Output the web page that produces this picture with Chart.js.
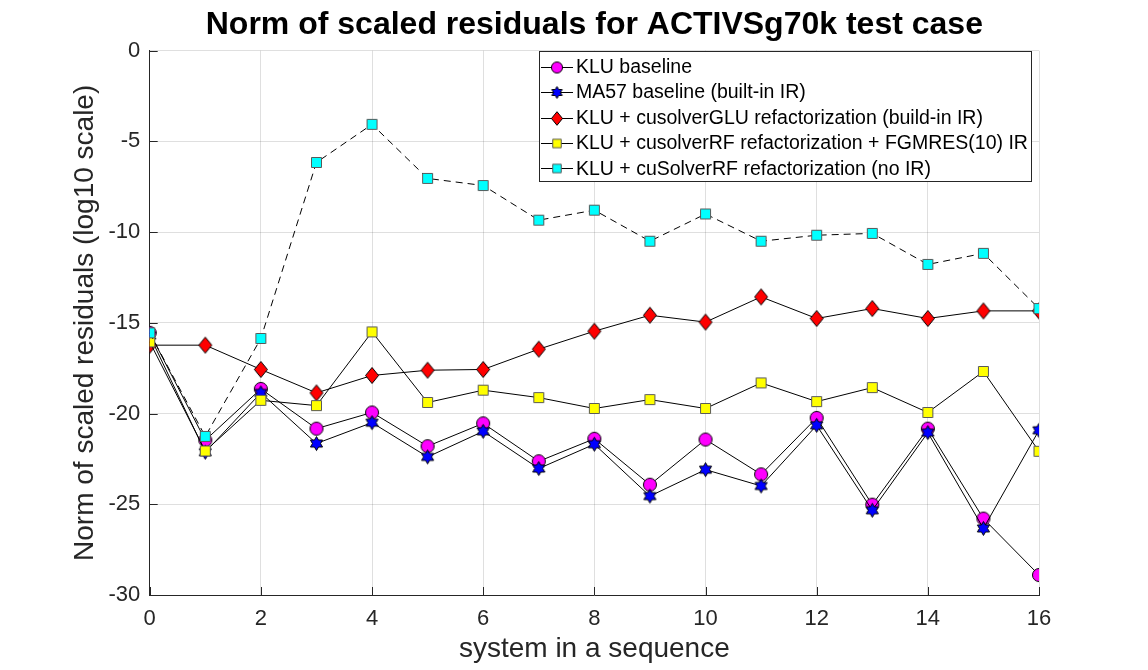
<!DOCTYPE html>
<html>
<head>
<meta charset="utf-8">
<script src="https://cdn.jsdelivr.net/npm/chart.js@4.4.1/dist/chart.umd.min.js"></script>
<style>
  html, body { margin: 0; padding: 0; background: #ffffff; }
  #wrap { width: 1148px; height: 670px; }
</style>
</head>
<body>
<div id="wrap"><canvas id="c" width="1148" height="670"></canvas></div>
<script>
// ---------------- data ----------------
const titleText = 'Norm of scaled residuals for ACTIVSg70k test case';
const xAxisTitle = 'system in a sequence';
const yAxisTitle = 'Norm of scaled residuals (log10 scale)';

const systemIndex = [0, 1, 2, 3, 4, 5, 6, 7, 8, 9, 10, 11, 12, 13, 14, 15, 16];

const seriesLabels = [
  'KLU baseline',
  'MA57 baseline (built-in IR)',
  'KLU + cusolverGLU refactorization (build-in IR)',
  'KLU + cusolverRF refactorization + FGMRES(10) IR',
  'KLU + cuSolverRF refactorization (no IR)'
];

const kluBaseline = [-15.55, -21.47, -18.64, -20.83, -19.94, -21.80, -20.54, -22.63, -21.39,
                     -23.92, -21.43, -23.35, -20.24, -25.02, -20.83, -25.79, -28.90];
const ma57Baseline = [-15.70, -22.13, -18.86, -21.65, -20.50, -22.39, -20.98, -23.03, -21.69,
                      -24.55, -23.09, -23.99, -20.65, -25.33, -21.05, -26.33, -20.92];
const kluGlu = [-16.23, -16.23, -17.57, -18.86, -17.90, -17.61, -17.57, -16.45, -15.46,
                -14.58, -14.96, -13.57, -14.76, -14.21, -14.76, -14.34, -14.34];
const kluRfFgmres = [-16.05, -22.06, -19.27, -19.56, -15.50, -19.39, -18.71, -19.12, -19.72,
                     -19.23, -19.72, -18.31, -19.34, -18.57, -19.94, -17.68, -22.08];
const kluRfNoIr = [-15.55, -21.26, -15.86, -6.16, -4.06, -7.04, -7.43, -9.34, -8.79,
                   -10.50, -9.00, -10.50, -10.17, -10.07, -11.78, -11.17, -14.21];

const xTickValues = [0, 2, 4, 6, 8, 10, 12, 14, 16];
const yTickValues = [-30, -25, -20, -15, -10, -5, 0];

// ---------------- styles ----------------
const FONT = "'Liberation Sans', Arial, Helvetica, sans-serif";
const AXIS_COLOR = '#262626';

function makeMarker(kind, fill, stroke, s) {
  const c = document.createElement('canvas');
  let w, h;
  if (kind === 'circle') { w = h = Math.ceil(16 * s); }
  else if (kind === 'hexagram') { w = h = Math.ceil(17 * s); }
  else if (kind === 'diamond') { w = Math.ceil(16 * s); h = Math.ceil(19 * s); }
  else { w = h = Math.ceil(13 * s); }
  c.width = w; c.height = h;
  const g = c.getContext('2d');
  const cx = w / 2, cy = h / 2;
  g.beginPath();
  if (kind === 'circle') {
    g.arc(cx, cy, 6.5 * s, 0, Math.PI * 2);
  } else if (kind === 'hexagram') {
    const R = 7 * s, r = R / Math.sqrt(3);
    for (let i = 0; i < 12; i++) {
      const a = -Math.PI / 2 + i * Math.PI / 6;
      const rr = (i % 2 === 0) ? R : r;
      const px = cx + rr * Math.cos(a), py = cy + rr * Math.sin(a);
      if (i === 0) g.moveTo(px, py); else g.lineTo(px, py);
    }
    g.closePath();
  } else if (kind === 'diamond') {
    const hw = 6.5 * s, hh = 8 * s;
    g.moveTo(cx, cy - hh); g.lineTo(cx + hw, cy); g.lineTo(cx, cy + hh); g.lineTo(cx - hw, cy);
    g.closePath();
  } else {
    const hs = 5 * s;
    g.rect(cx - hs, cy - hs, hs * 2, hs * 2);
  }
  g.fillStyle = fill;
  g.fill();
  g.lineWidth = 1;
  g.strokeStyle = stroke;
  g.stroke();
  return c;
}

const markerDefs = [
  ['circle', '#FF00FF', '#000000'],
  ['hexagram', '#0000FF', '#000000'],
  ['diamond', '#FF0000', '#000000'],
  ['square', '#FFFF00', '#5a5a5a'],
  ['square', '#00FFFF', '#5a5a5a']
];
const plotMarkers = markerDefs.map(d => makeMarker(d[0], d[1], d[2], 1));
const legendMarkers = markerDefs.map(d => makeMarker(d[0], d[1], d[2], 0.85));
const seriesDash = [[], [], [], [], [7, 5]];
const seriesValues = [kluBaseline, ma57Baseline, kluGlu, kluRfFgmres, kluRfNoIr];

const datasets = seriesValues.map((vals, i) => ({
  label: seriesLabels[i],
  data: systemIndex.map((x, k) => ({ x: x, y: vals[k] })),
  borderColor: '#000000',
  borderWidth: 1,
  borderDash: seriesDash[i],
  pointStyle: plotMarkers[i],
  pointRadius: 6,
  pointHoverRadius: 6,
  fill: false,
  tension: 0,
  order: seriesValues.length - i
}));

// ---------------- plugins ----------------
const inwardTicks = {
  id: 'inwardTicks',
  afterDatasetsDraw(chart) {
    const { ctx, chartArea, scales } = chart;
    ctx.save();
    ctx.strokeStyle = AXIS_COLOR;
    ctx.lineWidth = 1;
    ctx.beginPath();
    xTickValues.forEach(v => {
      const px = Math.round(scales.x.getPixelForValue(v)) + 0.5;
      ctx.moveTo(px, chartArea.bottom);
      ctx.lineTo(px, chartArea.bottom - 8);
    });
    yTickValues.forEach(v => {
      const py = Math.round(scales.y.getPixelForValue(v)) + 0.5;
      ctx.moveTo(chartArea.left, py);
      ctx.lineTo(chartArea.left + 8, py);
    });
    ctx.stroke();
    ctx.restore();
  }
};

const boxLegend = {
  id: 'boxLegend',
  afterDatasetsDraw(chart) {
    const ctx = chart.ctx;
    const bx = 539.5, by = 51.5, bw = 492, bh = 130;
    ctx.save();
    ctx.fillStyle = '#ffffff';
    ctx.fillRect(bx, by, bw, bh);
    ctx.strokeStyle = AXIS_COLOR;
    ctx.lineWidth = 1;
    ctx.strokeRect(bx, by, bw, bh);
    ctx.font = '19.5px ' + FONT;
    ctx.textBaseline = 'middle';
    ctx.textAlign = 'left';
    chart.data.datasets.forEach((ds, i) => {
      const y = 66.7 + i * 25.4;
      ctx.strokeStyle = '#000000';
      ctx.lineWidth = 1;
      ctx.setLineDash([]);
      ctx.beginPath();
      ctx.moveTo(541, Math.round(y) + 0.5);
      ctx.lineTo(573, Math.round(y) + 0.5);
      ctx.stroke();
      const m = legendMarkers[i];
      ctx.drawImage(m, 557 - m.width / 2, Math.round(y) + 0.5 - m.height / 2);
      ctx.fillStyle = '#000000';
      ctx.fillText(ds.label, 576, y + 1);
    });
    ctx.restore();
  }
};

// ---------------- chart ----------------
new Chart(document.getElementById('c'), {
  type: 'line',
  data: { datasets: datasets },
  plugins: [inwardTicks, boxLegend],
  options: {
    responsive: false,
    animation: false,
    events: [],
    layout: { padding: { left: 0, right: 109, top: 0, bottom: 0 } },
    plugins: {
      legend: { display: false },
      tooltip: { enabled: false },
      title: {
        display: true,
        fullSize: false,
        text: titleText,
        color: '#000000',
        font: { family: FONT, size: 32, weight: 'bold' },
        padding: { top: 5.7, bottom: 6.6 }
      }
    },
    scales: {
      x: {
        type: 'linear',
        min: 0,
        max: 16,
        afterBuildTicks(scale) { scale.ticks = xTickValues.map(v => ({ value: v })); },
        afterFit(scale) { scale.height = 75; },
        ticks: {
          color: AXIS_COLOR,
          font: { family: FONT, size: 22 },
          padding: 11,
          maxRotation: 0,
          autoSkip: false
        },
        grid: { color: 'rgba(38,38,38,0.15)', lineWidth: 1, drawTicks: false },
        border: { display: true, color: AXIS_COLOR, width: 1 },
        title: {
          display: true,
          text: xAxisTitle,
          color: AXIS_COLOR,
          font: { family: FONT, size: 28 },
          padding: { top: 0, bottom: 3.9 }
        }
      },
      y: {
        type: 'linear',
        min: -30,
        max: 0,
        afterBuildTicks(scale) { scale.ticks = yTickValues.map(v => ({ value: v })); },
        afterFit(scale) { scale.width = 149.7; },
        ticks: {
          color: AXIS_COLOR,
          font: { family: FONT, size: 22 },
          padding: 9.5,
          autoSkip: false
        },
        grid: { color: 'rgba(38,38,38,0.15)', lineWidth: 1, drawTicks: false },
        border: { display: true, color: AXIS_COLOR, width: 1 },
        title: {
          display: true,
          text: yAxisTitle,
          color: AXIS_COLOR,
          font: { family: FONT, size: 28 },
          padding: { top: 68.3, bottom: 0 }
        }
      }
    }
  }
});
</script>
</body>
</html>
